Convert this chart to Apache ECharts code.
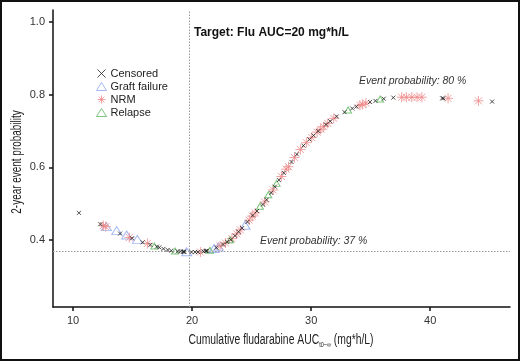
<!DOCTYPE html>
<html>
<head>
<meta charset="utf-8">
<script src="https://cdn.jsdelivr.net/npm/echarts@6/dist/echarts.min.js"></script>
<style>
  html, body { margin: 0; padding: 0; background: #fff; }
  #chart { width: 520px; height: 361px; }
</style>
</head>
<body>
<div id="chart"></div>
<script>
// tick labels
const xTicks = [10, 20, 30, 40]
const yTicks = [0.4, 0.6, 0.8, 1.0]

// reference lines
const targetAuc = 19.8
const minProb = 0.368

// [AUC, probability]
const censored = [
  [10.5, 0.475], [12.3, 0.444], [13.95, 0.418], [14.96, 0.405], [15.85, 0.394],
  [16.5, 0.387], [17.05, 0.382], [17.25, 0.380], [17.6, 0.376], [17.95, 0.373],
  [18.25, 0.371], [18.8, 0.369], [19.05, 0.369], [19.25, 0.368], [19.3, 0.368],
  [19.35, 0.368], [19.95, 0.367], [20.25, 0.367], [20.5, 0.367], [20.95, 0.369],
  [21.15, 0.370], [21.2, 0.370], [21.25, 0.371], [22.05, 0.379], [22.6, 0.388],
  [22.95, 0.395], [23.25, 0.401], [23.6, 0.412], [23.9, 0.423], [24.2, 0.433],
  [24.65, 0.450], [25.1, 0.468], [25.45, 0.480], [25.95, 0.498], [26.25, 0.511],
  [26.65, 0.530], [26.95, 0.547], [27.3, 0.565], [27.7, 0.585], [28.35, 0.615],
  [28.8, 0.636], [29.35, 0.660], [29.85, 0.677], [30.2, 0.688], [30.6, 0.700],
  [31.25, 0.718], [31.6, 0.727], [32.15, 0.740], [32.8, 0.752], [33.45, 0.762],
  [33.8, 0.767], [34.95, 0.780], [35.4, 0.783], [36.1, 0.789], [36.9, 0.792],
  [41.0, 0.790], [41.1, 0.790], [45.2, 0.781]
]
const graftFailure = [
  [12.8, 0.437], [13.67, 0.426], [14.5, 0.414], [15.4, 0.402], [19.55, 0.368],
  [21.85, 0.377], [22.2, 0.381], [24.45, 0.441]
]
const nrm = [
  [12.55, 0.440], [12.75, 0.437], [14.73, 0.407], [16.25, 0.391], [20.7, 0.367],
  [22.35, 0.384], [22.8, 0.392], [23.35, 0.404], [23.75, 0.417], [24.05, 0.428],
  [24.8, 0.455], [25.05, 0.466], [25.3, 0.475], [26.1, 0.505], [26.8, 0.538],
  [27.5, 0.575], [27.9, 0.595], [28.1, 0.602], [28.6, 0.627], [29.1, 0.649],
  [29.6, 0.668], [30.05, 0.682], [30.5, 0.697], [30.8, 0.705], [31.05, 0.712],
  [31.4, 0.721], [31.9, 0.735], [34.1, 0.771], [34.3, 0.773], [34.6, 0.777],
  [37.6, 0.793], [38.0, 0.793], [38.45, 0.793], [38.9, 0.793], [39.3, 0.793],
  [41.5, 0.790], [44.05, 0.783]
]
const relapse = [
  [16.83, 0.384], [18.57, 0.370], [21.5, 0.372], [23.2, 0.401], [25.7, 0.493],
  [26.4, 0.525], [27.1, 0.556], [33.1, 0.758], [35.8, 0.788]
]

const sans = "'Liberation Sans', Arial, sans-serif"

const chart = echarts.init(document.getElementById('chart'))

chart.setOption({
  animation: false,
  textStyle: { fontFamily: sans },
  grid: { left: 53, right: 10, top: 10, bottom: 54 },
  legend: {
    orient: 'vertical',
    left: 91,
    top: 63,
    itemWidth: 10,
    itemHeight: 8,
    itemGap: 2,
    itemStyle: { borderWidth: 1 },
    textStyle: { fontSize: 11, color: '#222', padding: [0, 0, 0, -1] },
    data: ['Censored', 'Graft failure', 'NRM', 'Relapse']
  },
  xAxis: {
    type: 'value',
    min: 8.32,
    max: 46.7,
    splitLine: { show: false },
    axisLine: { onZero: false, lineStyle: { color: '#111', width: 1.5 } },
    axisTick: { customValues: xTicks, length: 4, lineStyle: { color: '#111', width: 1.5 } },
    axisLabel: { customValues: xTicks, color: '#333', fontSize: 11, margin: 8 }
  },
  yAxis: {
    type: 'value',
    min: 0.216,
    max: 1.033,
    splitLine: { show: false },
    axisLine: { onZero: false, lineStyle: { color: '#111', width: 1.5 } },
    axisTick: { customValues: yTicks, length: 4, lineStyle: { color: '#111', width: 1.5 } },
    axisLabel: {
      customValues: yTicks,
      color: '#333',
      fontSize: 11,
      margin: 8,
      formatter: v => v.toFixed(1)
    }
  },
  series: [
    {
      name: 'Censored',
      type: 'scatter',
      symbol: 'path://M0,0L8,8M8,0L0,8',
      symbolSize: 4,
      itemStyle: { color: 'rgba(0,0,0,0)', borderColor: '#222', borderWidth: 1 },
      data: censored,
      z: 5,
      markLine: {
        silent: true,
        symbol: 'none',
        label: { show: false },
        lineStyle: { color: '#999', type: [1.5, 1.5], width: 1 },
        data: [{ xAxis: targetAuc }, { yAxis: minProb }]
      }
    },
    {
      name: 'Graft failure',
      type: 'scatter',
      symbol: 'triangle',
      symbolSize: [10, 8],
      itemStyle: { color: 'rgba(0,0,0,0)', borderColor: '#8EA6F0', borderWidth: 1 },
      data: graftFailure,
      z: 3
    },
    {
      name: 'NRM',
      type: 'scatter',
      symbol: 'path://M5,0L5,10M0,5L10,5M1.5,1.5L8.5,8.5M8.5,1.5L1.5,8.5',
      symbolSize: 10,
      itemStyle: { color: 'rgba(0,0,0,0)', borderColor: '#EE8A8A', borderWidth: 1 },
      data: nrm,
      z: 4
    },
    {
      name: 'Relapse',
      type: 'scatter',
      symbol: 'triangle',
      symbolSize: [7, 6],
      itemStyle: { color: 'rgba(0,0,0,0)', borderColor: '#5DB85D', borderWidth: 1 },
      data: relapse,
      z: 4
    }
  ],
  graphic: [
    {
      type: 'rect',
      shape: { x: 1, y: 1, width: 518, height: 359 },
      style: { fill: 'none', stroke: '#111', lineWidth: 2 },
      silent: true
    },
    {
      type: 'text',
      left: 194,
      top: 27,
      style: { text: 'Target: Flu AUC=20 mg*h/L', font: 'bold 12px ' + sans, fill: '#111' }
    },
    {
      type: 'text',
      left: 359,
      top: 76,
      style: { text: 'Event probability: 80 %', font: 'italic 10.5px ' + sans, fill: '#333' }
    },
    {
      type: 'text',
      left: 260,
      top: 236,
      style: { text: 'Event probability: 37 %', font: 'italic 10.5px ' + sans, fill: '#333' }
    },
    {
      // x axis title, condensed like the original
      type: 'text',
      x: 281,
      y: 340,
      scaleX: 0.74,
      style: {
        text: '{a|Cumulative fludarabine AUC}{s|t0\u2212\u221e}{a| (mg*h/L)}',
        align: 'center',
        verticalAlign: 'middle',
        rich: {
          a: { fontFamily: sans, fontSize: 14, fill: '#222' },
          s: { fontFamily: sans, fontSize: 7.5, fill: '#222', padding: [10, 0, 0, 0] }
        }
      }
    },
    {
      // y axis title
      type: 'text',
      x: 17,
      y: 162,
      rotation: Math.PI / 2,
      scaleX: 0.71,
      style: {
        text: '2-year event probability',
        align: 'center',
        verticalAlign: 'middle',
        font: '14px ' + sans,
        fill: '#222'
      }
    }
  ]
})
</script>
</body>
</html>
